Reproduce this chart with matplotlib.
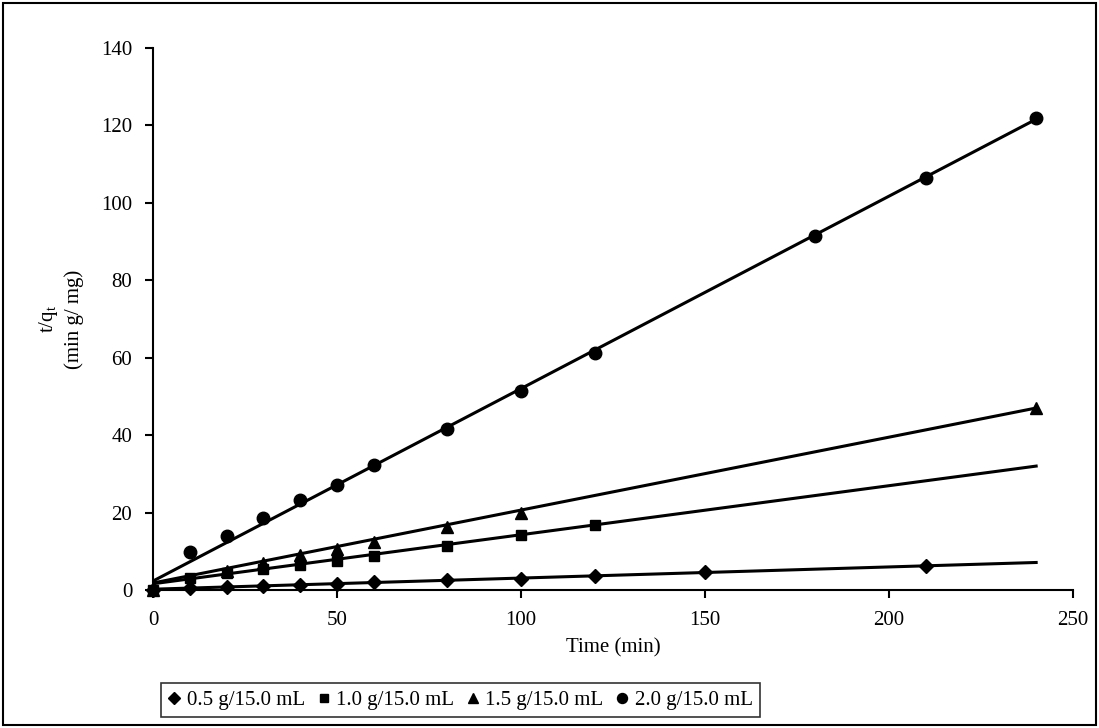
import matplotlib
matplotlib.use("Agg")
import matplotlib.pyplot as plt
from matplotlib.lines import Line2D
from matplotlib.patches import Rectangle

plt.rcParams['font.family'] = ['Liberation Serif', 'DejaVu Serif']

# measured points, t/qt vs time
x_05 = [0, 10, 20, 30, 40, 50, 60, 80, 100, 120, 150, 210]
y_05 = [0, 0.4, 0.7, 1.0, 1.4, 1.6, 2.0, 2.5, 2.9, 3.6, 4.6, 6.2]
x_10 = [0, 10, 20, 30, 40, 50, 60, 80, 100, 120]
y_10 = [0, 3.2, 4.4, 5.5, 6.5, 7.6, 8.8, 11.4, 14.2, 16.7]
x_15 = [0, 20, 30, 40, 50, 60, 80, 100, 240]
y_15 = [0, 5.0, 7.0, 9.0, 10.5, 12.5, 16.2, 19.8, 47.0]
x_20 = [10, 20, 30, 40, 50, 60, 80, 100, 120, 180, 210, 240]
y_20 = [9.8, 14.0, 18.6, 23.3, 27.0, 32.2, 41.6, 51.5, 61.2, 91.5, 106.5, 122.0]

# trend lines, value at t=0 and t=240
trend_x = [0, 240]
trend_05 = [0.2, 7.1]
trend_10 = [1.6, 32.0]
trend_15 = [1.8, 47.0]
trend_20 = [2.3, 121.6]

labels = ["0.5 g/15.0 mL", "1.0 g/15.0 mL", "1.5 g/15.0 mL", "2.0 g/15.0 mL"]


def main():
	fig = plt.figure(figsize=(10.99, 7.28), dpi=100)
	ax = fig.add_axes([0.1392, 0.1896, 0.8371, 0.7445])

	series = [
		(x_05, y_05, trend_05, "D", 7.5),
		(x_10, y_10, trend_10, "s", 7.5),
		(x_15, y_15, trend_15, "^", 9),
		(x_20, y_20, trend_20, "o", 9),
	]
	handles = []
	for (xs, ys, tr, mk, ms), lab in zip(series, labels):
		ax.plot(trend_x, tr, color="black", lw=2.2, zorder=2)
		ax.plot(xs, ys, linestyle="none", marker=mk, ms=ms, color="black", zorder=3, clip_on=False)
		handles.append(Line2D([], [], linestyle="none", marker=mk, ms=ms * 0.8, color="black", label=lab))

	ax.set_xlim(0, 250)
	ax.set_ylim(0, 140)
	ax.set_xticks(range(0, 251, 50))
	ax.set_yticks(range(0, 141, 20))
	ax.spines["top"].set_visible(False)
	ax.spines["right"].set_visible(False)
	for s in ("left", "bottom"):
		ax.spines[s].set_linewidth(1.5)
	ax.tick_params(direction="out", length=6, width=1.5, labelsize=15, pad=9)

	ax.set_xlabel("Time (min)", fontsize=15, labelpad=6)
	ax.set_ylabel("t/q$_\\mathregular{t}$\n(min g/ mg)", fontsize=15, labelpad=12, linespacing=1.3)

	leg = fig.legend(handles=handles, loc="center", bbox_to_anchor=(0.419, 0.038), ncol=4,
		fontsize=15, frameon=True, fancybox=False, handlelength=0.6, handletextpad=0.3,
		columnspacing=0.6, borderpad=0.35)
	leg.get_frame().set_edgecolor("black")
	leg.get_frame().set_linewidth(1.2)

	fig.add_artist(Rectangle((0.003, 0.004), 0.994, 0.992, transform=fig.transFigure,
		fill=False, edgecolor="black", lw=1.5))

	fig.savefig("out.png", dpi=100, facecolor="white")


if __name__ == '__main__':
	main()
